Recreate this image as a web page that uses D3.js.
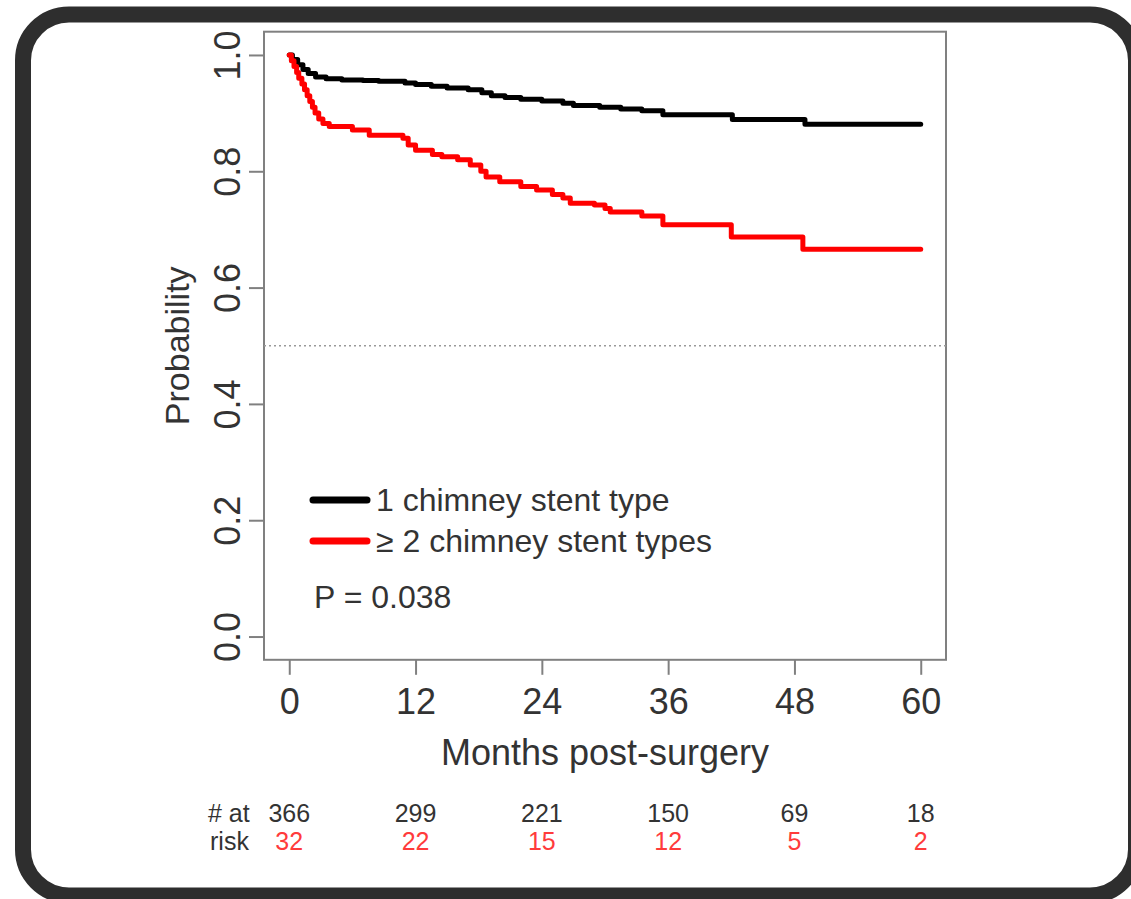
<!DOCTYPE html>
<html>
<head>
<meta charset="utf-8">
<script src="https://cdn.jsdelivr.net/npm/d3@7"></script>
<style>
  html, body { margin: 0; padding: 0; background: #fff; }
  svg { display: block; font-family: "Liberation Sans", Arial, sans-serif; }
</style>
</head>
<body>
<svg id="chart" width="1131" height="899"></svg>
<script>
// survival steps (months, probability)
const blackTimes = [0, 0.3, 0.8, 1.3, 1.8, 2.5, 3.5, 5, 7, 8.5, 11, 12, 13.5, 15, 17, 18.3, 19.2, 20.5, 22, 24, 26, 27, 29.5, 31.5, 33.5, 35.5, 42.1, 49, 60];
const blackSurv  = [1.0, 0.992, 0.983, 0.975, 0.968, 0.962, 0.959, 0.957, 0.956, 0.955, 0.952, 0.949, 0.946, 0.943, 0.94, 0.935, 0.93, 0.927, 0.924, 0.921, 0.917, 0.913, 0.91, 0.907, 0.904, 0.897, 0.889, 0.881, 0.881];

const redTimes = [0, 0.2, 0.45, 0.7, 0.9, 1.2, 1.45, 1.7, 1.95, 2.2, 2.45, 2.8, 3.2, 3.8, 6, 7.6, 10.8, 11.3, 12, 13.6, 14.5, 16, 17.2, 18.2, 18.7, 20, 22, 23.5, 25, 26, 26.7, 29, 30, 30.5, 33.5, 35.5, 42, 48.8, 60];
const redSurv  = [1.0, 0.99, 0.98, 0.97, 0.96, 0.95, 0.94, 0.93, 0.92, 0.91, 0.9, 0.89, 0.882, 0.877, 0.871, 0.862, 0.857, 0.845, 0.836, 0.829, 0.825, 0.82, 0.811, 0.8, 0.79, 0.782, 0.774, 0.768, 0.76, 0.754, 0.745, 0.742, 0.736, 0.73, 0.723, 0.708, 0.687, 0.666, 0.666];

const xTicks = [0, 12, 24, 36, 48, 60];
const yTicks = [0, 0.2, 0.4, 0.6, 0.8, 1.0];
const riskBlack = [366, 299, 221, 150, 69, 18];
const riskRed = [32, 22, 15, 12, 5, 2];
const legendLabels = ["1 chimney stent type", "\u2265 2 chimney stent types"];
const seriesColors = ["#000000", "#ff0000"];
const pText = "P = 0.038";

const svg = d3.select("#chart");
const textCol = "#333";
const axisCol = "#808080";

// slide-like frame
svg.append("rect")
  .attr("x", 23).attr("y", 14.5)
  .attr("width", 1113).attr("height", 881)
  .attr("rx", 46).attr("ry", 46)
  .attr("fill", "#fff")
  .attr("stroke", "#2e2e2e")
  .attr("stroke-width", 16);

// R-style 4% padded scales
const x = d3.scaleLinear().domain([-2.4, 62.4]).range([264, 946]);
const y = d3.scaleLinear().domain([-0.04, 1.04]).range([659.8, 31.7]);

// plot box
svg.append("rect")
  .attr("x", x(-2.4)).attr("y", y(1.04))
  .attr("width", x(62.4) - x(-2.4)).attr("height", y(-0.04) - y(1.04))
  .attr("fill", "none").attr("stroke", axisCol).attr("stroke-width", 2);

// x axis
const xAxis = svg.append("g")
  .attr("transform", `translate(0,${y(-0.04)})`)
  .call(d3.axisBottom(x).tickValues(xTicks).tickSize(15).tickPadding(14).tickFormat(d3.format("d")));
xAxis.select(".domain").remove();
xAxis.selectAll("line").attr("stroke", axisCol).attr("stroke-width", 2);
xAxis.selectAll("text")
  .attr("font-size", 36).attr("fill", textCol)
  .attr("font-family", "Liberation Sans, Arial, sans-serif");

// y axis
const yAxis = svg.append("g")
  .attr("transform", `translate(${x(-2.4)},0)`)
  .call(d3.axisLeft(y).tickValues(yTicks).tickSize(15).tickFormat(d3.format(".1f")));
yAxis.select(".domain").remove();
yAxis.selectAll("line").attr("stroke", axisCol).attr("stroke-width", 2);
yAxis.selectAll("text").remove();
yAxis.selectAll(".tick").append("text")
  .attr("transform", "translate(-24,0) rotate(-90)")
  .attr("text-anchor", "middle")
  .attr("font-size", 36).attr("fill", textCol)
  .attr("font-family", "Liberation Sans, Arial, sans-serif")
  .text(d => d3.format(".1f")(d));

// axis titles
svg.append("text")
  .attr("x", (x(-2.4) + x(62.4)) / 2).attr("y", 765)
  .attr("text-anchor", "middle").attr("font-size", 36).attr("fill", textCol)
  .text("Months post-surgery");
svg.append("text")
  .attr("transform", `translate(189,${y(0.5)}) rotate(-90)`)
  .attr("text-anchor", "middle").attr("font-size", 34).attr("fill", textCol)
  .text("Probability");

// median reference line
svg.append("line")
  .attr("x1", x(-2.4)).attr("x2", x(62.4))
  .attr("y1", y(0.5)).attr("y2", y(0.5))
  .attr("stroke", "#999").attr("stroke-width", 1.5)
  .attr("stroke-dasharray", "2,3");

// KM curves
const line = d3.line()
  .x(d => x(d[0]))
  .y(d => y(d[1]))
  .curve(d3.curveStepAfter);

const series = [
  d3.zip(blackTimes, blackSurv),
  d3.zip(redTimes, redSurv)
];
series.forEach((s, i) => {
  svg.append("path")
    .datum(s)
    .attr("fill", "none")
    .attr("stroke", seriesColors[i])
    .attr("stroke-width", 5)
    .attr("stroke-linejoin", "round")
    .attr("stroke-linecap", "round")
    .attr("d", line);
});

// legend
const legend = svg.append("g");
legendLabels.forEach((lab, i) => {
  const ly = 500 + i * 41;
  legend.append("line")
    .attr("x1", 313).attr("x2", 367)
    .attr("y1", ly).attr("y2", ly)
    .attr("stroke", seriesColors[i]).attr("stroke-width", 7)
    .attr("stroke-linecap", "round");
  legend.append("text")
    .attr("x", 376).attr("y", ly + 11)
    .attr("font-size", 32).attr("fill", textCol)
    .text(lab);
});
legend.append("text")
  .attr("x", 314).attr("y", 608)
  .attr("font-size", 32).attr("fill", textCol)
  .text(pText);

// numbers at risk
svg.append("text").attr("x", 208).attr("y", 822)
  .attr("font-size", 25).attr("fill", textCol).text("# at");
svg.append("text").attr("x", 210).attr("y", 850)
  .attr("font-size", 25).attr("fill", textCol).text("risk");

svg.append("g").selectAll("text")
  .data(xTicks)
  .join("text")
  .attr("x", d => x(d)).attr("y", 822)
  .attr("text-anchor", "middle").attr("font-size", 25).attr("fill", textCol)
  .text((d, i) => riskBlack[i]);

svg.append("g").selectAll("text")
  .data(xTicks)
  .join("text")
  .attr("x", d => x(d)).attr("y", 850)
  .attr("text-anchor", "middle").attr("font-size", 25).attr("fill", "#ff3b3b")
  .text((d, i) => riskRed[i]);
</script>
</body>
</html>
